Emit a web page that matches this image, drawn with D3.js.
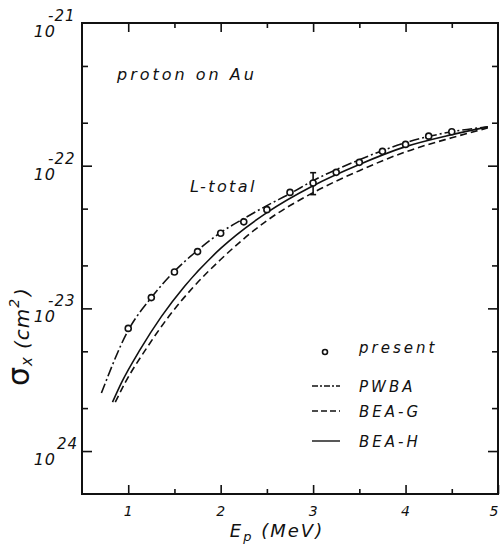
<!DOCTYPE html>
<html>
<head>
<meta charset="utf-8">
<script src="https://cdn.jsdelivr.net/npm/d3@7"></script>
<style>
  body { margin: 0; background: #fff; }
  svg text { font-family: "DejaVu Sans", "Liberation Sans", sans-serif; font-style: italic; fill: #111; }
  .tick text { font-size: 14px; letter-spacing: 1px; }
</style>
</head>
<body>
<svg id="chart" width="500" height="546"></svg>
<script>
// L-shell total X-ray production cross sections, proton on Au
const measuredEnergy = [1.0, 1.25, 1.5, 1.75, 2.0, 2.25, 2.5, 2.75, 3.0, 3.25, 3.5, 3.75, 4.0, 4.25, 4.5];
const measuredSigma  = [7.24e-24, 1.19e-23, 1.80e-23, 2.50e-23, 3.36e-23, 4.04e-23, 4.92e-23,
                        6.50e-23, 7.57e-23, 8.98e-23, 1.055e-22, 1.26e-22, 1.41e-22, 1.61e-22, 1.73e-22];
// single error bar at 3 MeV
const errorEnergy = [3.0];
const errorLow    = [6.27e-23];
const errorHigh   = [8.93e-23];

const pwbaEnergy = [0.71, 1.0, 1.25, 1.5, 1.75, 2.0, 2.25, 2.5, 2.75, 3.0, 3.5, 4.0, 4.5, 4.89];
const pwbaSigma  = [2.55e-24, 7.01e-24, 1.19e-23, 1.82e-23, 2.55e-23, 3.40e-23, 4.26e-23,
                    5.25e-23, 6.37e-23, 7.85e-23, 1.10e-22, 1.45e-22, 1.73e-22, 1.87e-22];

const beaGEnergy = [0.86, 0.97, 1.19, 1.44, 1.70, 2.0, 2.5, 3.0, 3.5, 4.0, 4.5, 4.89];
const beaGSigma  = [2.20e-24, 3.04e-24, 5.16e-24, 8.79e-24, 1.40e-23, 2.20e-23, 4.12e-23,
                    6.47e-23, 9.23e-23, 1.25e-22, 1.57e-22, 1.84e-22];

const beaHEnergy = [0.83, 0.93, 1.13, 1.36, 1.61, 2.0, 2.5, 3.0, 3.5, 4.0, 4.5, 4.89];
const beaHSigma  = [2.20e-24, 3.04e-24, 5.16e-24, 8.79e-24, 1.43e-23, 2.63e-23, 4.69e-23,
                    7.24e-23, 1.02e-22, 1.36e-22, 1.65e-22, 1.87e-22];

const xMajorTicks = [1, 2, 3, 4, 5];
const xMinorTicks = [1.5, 2.5, 3.5, 4.5];
const yMajorTicks = [1e-24, 1e-23, 1e-22, 1e-21];
const yMinorTicks = [2e-24, 5e-24, 2e-23, 5e-23, 2e-22, 5e-22];
// exponent text as lettered on each decade label
const yExponents  = ["24", "-23", "-22", "-21"];

const legendLabels = ["present", "PWBA", "BEA-G", "BEA-H"];

const ink = "#111";
const svg = d3.select("#chart");

const x = d3.scaleLinear().domain([0.5, 5]).range([82, 498]);
const y = d3.scaleLog().domain([5e-25, 1e-21]).range([494, 23]);

const [x0, x1] = x.range();
const [yb, yt] = y.range();

// frame
svg.append("rect")
  .attr("x", x0).attr("y", yt)
  .attr("width", x1 - x0).attr("height", yb - yt)
  .attr("fill", "none").attr("stroke", ink).attr("stroke-width", 2);

function styleAxis(g) {
  g.select(".domain").remove();
  g.selectAll(".tick line").attr("stroke", ink).attr("stroke-width", 1.6);
  g.attr("font-family", null).attr("font-size", null);
}

// bottom axis with labels
svg.append("g").attr("transform", `translate(0,${yb})`)
  .call(d3.axisBottom(x).tickValues(xMajorTicks).tickSize(-9).tickPadding(12).tickFormat(d3.format("d")))
  .call(styleAxis)
  .call(g => g.selectAll(".tick text").filter(d => d === 5).attr("dx", -4));
svg.append("g").attr("transform", `translate(0,${yb})`)
  .call(d3.axisBottom(x).tickValues(xMinorTicks).tickSize(-5).tickFormat(""))
  .call(styleAxis);
// top axis
svg.append("g").attr("transform", `translate(0,${yt})`)
  .call(d3.axisTop(x).tickValues(xMajorTicks.filter(d => d < 5)).tickSize(-9).tickFormat(""))
  .call(styleAxis);
svg.append("g").attr("transform", `translate(0,${yt})`)
  .call(d3.axisTop(x).tickValues(xMinorTicks).tickSize(-5).tickFormat(""))
  .call(styleAxis);
// left axis
svg.append("g").attr("transform", `translate(${x0},0)`)
  .call(d3.axisLeft(y).tickValues(yMajorTicks.slice(0, 3)).tickSize(-10).tickFormat(""))
  .call(styleAxis);
svg.append("g").attr("transform", `translate(${x0},0)`)
  .call(d3.axisLeft(y).tickValues(yMinorTicks).tickSize(-6).tickFormat(""))
  .call(styleAxis);
// right axis
svg.append("g").attr("transform", `translate(${x1},0)`)
  .call(d3.axisRight(y).tickValues(yMajorTicks.slice(0, 3)).tickSize(-10).tickFormat(""))
  .call(styleAxis);
svg.append("g").attr("transform", `translate(${x1},0)`)
  .call(d3.axisRight(y).tickValues(yMinorTicks).tickSize(-6).tickFormat(""))
  .call(styleAxis);

// decade labels 10^n
yMajorTicks.forEach((v, i) => {
  const py = y(v);
  svg.append("text").attr("x", 56).attr("y", py + 14)
    .attr("text-anchor", "end").attr("font-size", 16).attr("letter-spacing", 1)
    .text("10");
  const exp = yExponents[i];
  svg.append("text").attr("x", exp.startsWith("-") ? 48 : 57).attr("y", py - 2)
    .attr("font-size", 15).attr("letter-spacing", 1)
    .text(exp);
});

// axis titles
const yTitle = svg.append("text")
  .attr("transform", "translate(29,386) rotate(-90)")
  .attr("text-anchor", "start").attr("font-size", 20).attr("letter-spacing", 1);
yTitle.append("tspan").attr("font-size", 30).attr("font-style", "normal").text("σ");
yTitle.append("tspan").attr("font-size", 15).attr("dy", 3).text("x");
yTitle.append("tspan").attr("dy", -3).attr("dx", 7).text("(cm");
yTitle.append("tspan").attr("font-size", 14).attr("dy", -10).text("2");
yTitle.append("tspan").attr("dy", 10).attr("dx", 2).text(")");

const xTitle = svg.append("text")
  .attr("x", 277).attr("y", 537)
  .attr("text-anchor", "middle").attr("font-size", 18).attr("letter-spacing", 2);
xTitle.append("tspan").text("E");
xTitle.append("tspan").attr("font-size", 13).attr("dy", 4).text("p");
xTitle.append("tspan").attr("dy", -4).text(" (MeV)");

// annotations
svg.append("text").attr("x", 117).attr("y", 80)
  .attr("font-size", 16).attr("letter-spacing", 3).text("proton on  Au");
svg.append("text").attr("x", 190).attr("y", 192)
  .attr("font-size", 16).attr("letter-spacing", 2.4).text("L-total");

// theory curves
const line = d3.line().x(d => x(d[0])).y(d => y(d[1])).curve(d3.curveMonotoneX);
const curves = [
  { e: pwbaEnergy, s: pwbaSigma, dash: "10,3,2,3" },
  { e: beaGEnergy, s: beaGSigma, dash: "7,4" },
  { e: beaHEnergy, s: beaHSigma, dash: null }
];
curves.forEach(c => {
  svg.append("path")
    .datum(d3.zip(c.e, c.s))
    .attr("d", line)
    .attr("fill", "none").attr("stroke", ink).attr("stroke-width", 1.6)
    .attr("stroke-dasharray", c.dash);
});

// error bar
errorEnergy.forEach((e, i) => {
  const px = x(e);
  const g = svg.append("g").attr("stroke", ink).attr("stroke-width", 1.6);
  g.append("line").attr("x1", px).attr("x2", px).attr("y1", y(errorLow[i])).attr("y2", y(errorHigh[i]));
  [errorLow[i], errorHigh[i]].forEach(v => {
    g.append("line").attr("x1", px - 3).attr("x2", px + 3).attr("y1", y(v)).attr("y2", y(v));
  });
});

// measured points
svg.append("g").selectAll("circle")
  .data(d3.zip(measuredEnergy, measuredSigma))
  .join("circle")
  .attr("cx", d => x(d[0])).attr("cy", d => y(d[1])).attr("r", 3)
  .attr("fill", "#fff").attr("stroke", ink).attr("stroke-width", 1.6);

// legend
const legendRows = [353, 392, 417, 447];
legendLabels.forEach((label, i) => {
  const ly = legendRows[i];
  if (i === 0) {
    svg.append("circle").attr("cx", 325).attr("cy", ly - 1).attr("r", 2.5)
      .attr("fill", "#fff").attr("stroke", ink).attr("stroke-width", 1.6);
  } else {
    svg.append("line").attr("x1", 312).attr("x2", 340).attr("y1", ly - 6).attr("y2", ly - 6)
      .attr("stroke", ink).attr("stroke-width", 1.4)
      .attr("stroke-dasharray", i === 1 ? "6,2,2,2" : (i === 2 ? "6,3" : null));
  }
  svg.append("text").attr("x", 359).attr("y", ly)
    .attr("font-size", 15).attr("letter-spacing", 3).text(label);
});
</script>
</body>
</html>
